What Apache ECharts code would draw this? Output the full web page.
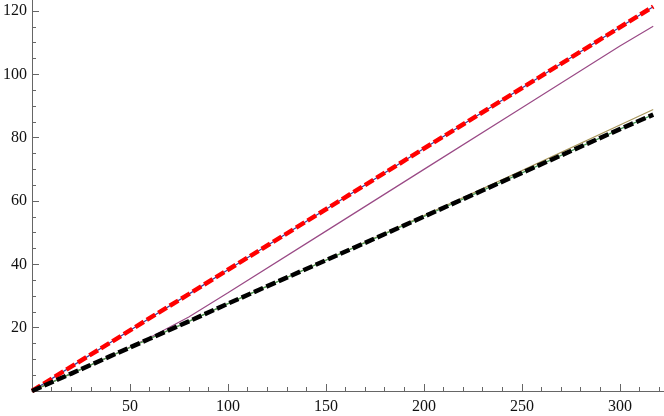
<!DOCTYPE html>
<html>
<head>
<meta charset="utf-8">
<script src="https://cdn.jsdelivr.net/npm/echarts@6/dist/echarts.min.js"></script>
<style>
  html, body { margin: 0; padding: 0; background: #fff; }
  #chart { width: 664px; height: 416px; }
</style>
</head>
<body>
<div id="chart"></div>
<script>
// sample points along x
const xValues = [0, 20, 40, 60, 80, 100, 150, 200, 250, 300, 317];

// upper pair (thin blue under thick red dashes)
const blueY  = [0, 7.7, 15.3, 23.0, 30.6, 38.3, 57.4, 76.6, 95.7, 114.9, 121.4];
const redY   = [0, 7.7, 15.3, 23.0, 30.6, 38.3, 57.4, 76.6, 95.7, 114.9, 121.4];
// purple bends away from the lower pair around x = 60
const purpleY = [0, 5.5, 11.0, 16.8, 23.4, 31.0, 50.5, 70.0, 89.5, 109.0, 115.2];
// tan sits on the lower pair, drifting a little above near the end
const tanY   = [0, 5.5, 11.0, 16.5, 22.0, 27.6, 41.4, 55.4, 69.6, 84.0, 88.9];
// lower pair (thin green under thick black dashes)
const greenY = [0, 5.5, 11.0, 16.5, 22.0, 27.6, 41.3, 55.1, 68.9, 82.7, 87.3];
const blackY = [0, 5.5, 11.0, 16.5, 22.0, 27.6, 41.3, 55.1, 68.9, 82.7, 87.3];

const xTicks = [0, 50, 100, 150, 200, 250, 300];
const xLabels = [50, 100, 150, 200, 250, 300];
const yTicks = [0, 20, 40, 60, 80, 100, 120];
const yLabels = [20, 40, 60, 80, 100, 120];

function pairs(ys) {
  return xValues.map((x, i) => [x, ys[i]]);
}

function thin(name, ys, color) {
  return {
    name: name, type: "line", data: pairs(ys), showSymbol: false,
    lineStyle: { color: color, width: 1.2 }
  };
}

function dashed(name, ys, color) {
  return {
    name: name, type: "line", data: pairs(ys), showSymbol: false,
    lineStyle: { color: color, width: 4.5, type: [10, 3.5], cap: "butt" }
  };
}

const axisColor = "#666";
const labelFont = { fontFamily: "Liberation Serif", fontSize: 16, color: "#111" };

var chart = echarts.init(document.getElementById("chart"));
chart.setOption({
  animation: false,
  grid: { left: 30, right: 0, top: 0, bottom: 25, containLabel: false },
  xAxis: {
    type: "value", min: 0, max: 322.5, interval: 50,
    splitLine: { show: false },
    axisLine: { lineStyle: { color: axisColor, width: 1 } },
    axisTick: { inside: true, length: 7, customValues: xTicks, lineStyle: { color: axisColor } },
    minorTick: { show: true, splitNumber: 5, length: 4, lineStyle: { color: axisColor } },
    axisLabel: Object.assign({ margin: 8, customValues: xLabels }, labelFont)
  },
  yAxis: {
    type: "value", min: 0, max: 123.5, interval: 20,
    splitLine: { show: false },
    axisLine: { show: true, lineStyle: { color: axisColor, width: 1 } },
    axisTick: { show: true, inside: true, length: 7, customValues: yTicks, lineStyle: { color: axisColor } },
    minorTick: { show: true, splitNumber: 4, length: 4, lineStyle: { color: axisColor } },
    axisLabel: Object.assign({ margin: 5, customValues: yLabels }, labelFont)
  },
  series: [
    thin("blue", blueY, "#3d3d99"),
    thin("purple", purpleY, "#9a4a86"),
    thin("tan", tanY, "#a8975c"),
    thin("green", greenY, "#4a9a5a"),
    dashed("red", redY, "#ff0000"),
    dashed("black", blackY, "#000000")
  ]
});
</script>
</body>
</html>
